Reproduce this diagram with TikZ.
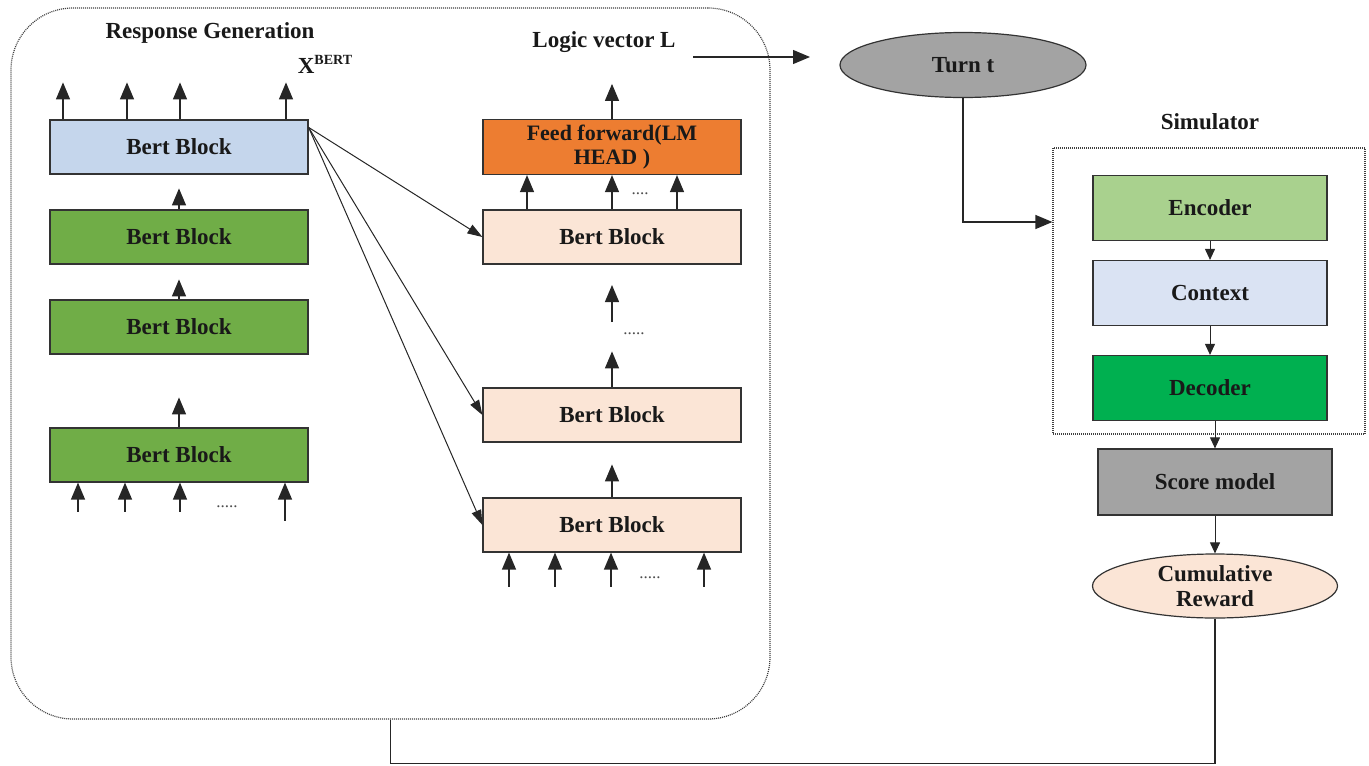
\documentclass[tikz,border=0pt]{standalone}
\usepackage{fontspec}
\setmainfont{Liberation Serif}
\usetikzlibrary{arrows.meta,shapes.geometric}

\definecolor{blueblk}{HTML}{C5D6EC}
\definecolor{greenblk}{HTML}{70AD47}
\definecolor{orangeblk}{HTML}{ED7D31}
\definecolor{peachblk}{HTML}{FBE5D6}
\definecolor{encgreen}{HTML}{A9D18E}
\definecolor{ctxblue}{HTML}{DAE3F3}
\definecolor{decgreen}{HTML}{00B050}
\definecolor{scoregray}{HTML}{A3A3A3}

\begin{document}
\begin{tikzpicture}[x=1pt, y=-1pt,
    txt/.style={font=\bfseries\fontsize{23}{26}\selectfont, text=black!90},
    blk/.style={txt, draw=black!80, line width=1.2pt, minimum width=258pt, minimum height=54pt, inner sep=0pt},
    simblk/.style={txt, draw=black!80, line width=1.2pt, minimum width=234pt, minimum height=65pt, inner sep=0pt},
    oval/.style={txt, ellipse, draw=black!80, line width=1.2pt, inner sep=0pt, align=center},
    dotbox/.style={draw=black!75, line width=1.2pt, dash pattern=on 1pt off 1pt},
    up/.style={-{Triangle[length=17pt,width=14pt]}, line width=1.3pt, black!85},
    thinarr/.style={-{Triangle[length=15pt,width=10pt]}, line width=1pt, black!85},
    smallarr/.style={-{Triangle[length=11pt,width=10pt]}, line width=1pt, black!85},
    dots/.style={font=\fontsize{17}{17}\selectfont, text=black!70}]
    \useasboundingbox (0,0) rectangle (1369,766);

    % Response generation frame
    \node (gen) [dotbox, rounded corners=62pt, minimum width=759pt, minimum height=711pt] at (390.5,363.5) {};
    \node (rg) [txt] at (210,33) {Response Generation};
    \node (xb) [txt] at (325,64) {X\raisebox{9pt}{\fontsize{14}{14}\selectfont BERT}};

    % Left stack of blocks
    \node (lb1) [blk, fill=blueblk] at (179,147) {Bert Block};
    \node (lb2) [blk, fill=greenblk] at (179,237) {Bert Block};
    \node (lb3) [blk, fill=greenblk] at (179,327) {Bert Block};
    \node (lb4) [blk, fill=greenblk] at (179,455) {Bert Block};

    \foreach \x in {63,127,180,286} \draw[up] (lb1.north -| \x,0) -- ++(0,-37);
    \draw[up] (lb2.north) -- ++(0,-21);
    \draw[up] (lb3.north) -- ++(0,-20);
    \draw[up] (lb4.north) -- ++(0,-30);
    \foreach \x in {78,125,180} \draw[up] ([yshift=-29pt]lb4.south -| \x,0) -- (lb4.south -| \x,0);
    \draw[up] ([yshift=-38pt]lb4.south -| 285,0) -- (lb4.south -| 285,0);
    \node (ldots) [dots] at (227,507) {.....};

    % Middle stack of blocks
    \node (lv) [txt] at (604,42) {Logic vector L};
    \node (ff) [blk, fill=orangeblk, align=center, minimum height=55pt, font=\bfseries\fontsize{22}{24}\selectfont] at (612,147) {Feed forward(LM\\HEAD )};
    \node (mb1) [blk, fill=peachblk] at (612,237) {Bert Block};
    \node (mb2) [blk, fill=peachblk] at (612,415) {Bert Block};
    \node (mb3) [blk, fill=peachblk] at (612,525) {Bert Block};

    \draw[up] (ff.north) -- ++(0,-35);
    \foreach \x in {527,612,677} \draw[up] (mb1.north -| \x,0) -- (ff.south -| \x,0);
    \node (fdots) [dots] at (640,194) {....};
    \draw[up] (mb2.north) -- ++(0,-36);
    \node (mdots) [dots] at (634,334) {.....};
    \coordinate (gapin) at (612,322);
    \draw[up] (gapin) -- ++(0,-37);
    \draw[up] (mb3.north) -- ++(0,-33);
    \foreach \x in {509,555,611,704} \draw[up] ([yshift=-34pt]mb3.south -| \x,0) -- (mb3.south -| \x,0);
    \node (bdots) [dots] at (650,578) {.....};

    % Skip connections
    \foreach \t in {mb1,mb2,mb3} \draw[thinarr] ([yshift=-8pt]lb1.north east) -- (\t.west);

    % Turn and simulator
    \node (turn) [oval, fill=scoregray, minimum width=246pt, minimum height=65pt] at (963,65) {Turn t};
    \coordinate (lvout) at (693,57);
    \coordinate (lvin) at (810,57);
    \draw[up, line width=1.2pt] (lvout) -- (lvin);

    \node (simlbl) [txt] at (1210,122) {Simulator};
    \node (sim) [dotbox, minimum width=312pt, minimum height=286pt] at (1209,291) {};
    \node (enc) [simblk, fill=encgreen] at (1210,208) {Encoder};
    \node (ctx) [simblk, fill=ctxblue] at (1210,293) {Context};
    \node (dec) [simblk, fill=decgreen] at (1210,388) {Decoder};
    \node (score) [simblk, fill=scoregray, minimum height=66pt] at (1215,482) {Score model};
    \node (cum) [oval, fill=peachblk, minimum width=245pt, minimum height=64pt, font=\bfseries\fontsize{23}{25}\selectfont] at (1215,586) {Cumulative\\Reward};

    \draw[up, line width=1.2pt] (turn.south) |- ([yshift=69pt]sim.west);
    \draw[smallarr] (enc) -- (ctx);
    \draw[smallarr] (ctx) -- (dec);
    \draw[smallarr] (dec.south -| score.north) -- (score.north);
    \draw[smallarr] (score) -- (cum);

    % Feedback loop
    \draw[line width=1.2pt, black!85] (gen.south) -- ++(0,44) -| (cum.south);
\end{tikzpicture}
\end{document}
